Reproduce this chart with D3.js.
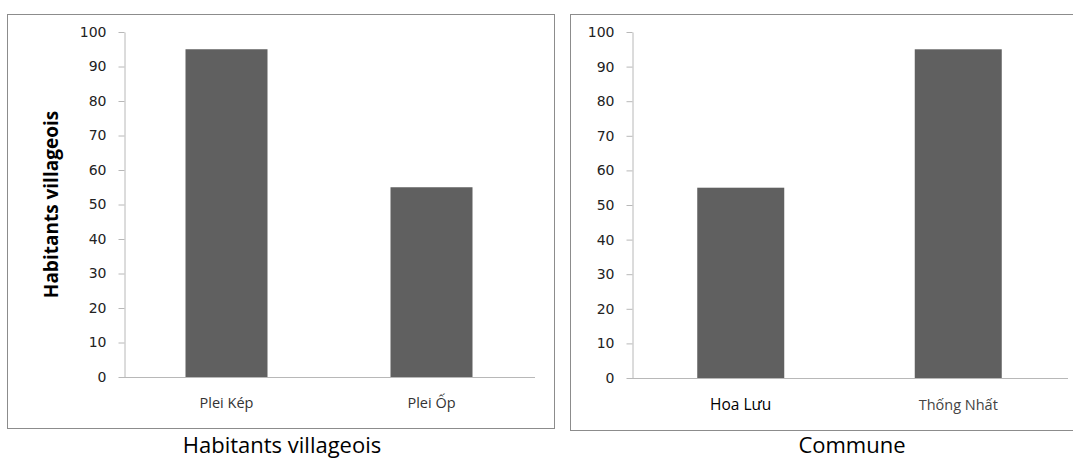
<!DOCTYPE html>
<html><head><meta charset="utf-8">
<script src="https://cdn.jsdelivr.net/npm/d3@7"></script>
<style>body{margin:0;background:#fff}svg{display:block}</style>
</head><body>
<svg id="c" width="1073" height="460"></svg>
<script>
const leftCategories = ["Plei Kép", "Plei Ốp"];
const leftValues = [95, 55];
const rightCategories = ["Hoa Lưu", "Thống Nhất"];
const rightValues = [55, 95];
const yTicks = [0, 10, 20, 30, 40, 50, 60, 70, 80, 90, 100];
const leftYTitle = "Habitants villageois";
const leftXTitle = "Habitants villageois";
const rightXTitle = "Commune";

const svg = d3.select("#c");

function panel(cfg) {
  const g = svg.append("g");
  g.append("rect").attr("x", cfg.box[0] + 0.5).attr("y", cfg.box[1] + 0.5)
    .attr("width", cfg.box[2]).attr("height", cfg.box[3])
    .attr("fill", "#fff").attr("stroke", "#8c8c8c").attr("stroke-width", 1);
  const x = d3.scaleBand().domain(cfg.cats).range([cfg.x0, cfg.x1]).paddingInner(0.6).paddingOuter(0.3);
  const y = d3.scaleLinear().domain([0, 100]).range([cfg.y0, cfg.y1]);
  g.selectAll("rect.bar").data(cfg.vals).enter().append("rect")
    .attr("class", "bar")
    .attr("x", (d, i) => x(cfg.cats[i]))
    .attr("width", x.bandwidth())
    .attr("y", d => y(d))
    .attr("height", d => y(0) - y(d))
    .attr("fill", "#606060");
  const ya = g.append("g").attr("transform", `translate(${cfg.x0 + 0.5},0)`)
    .call(d3.axisLeft(y).tickValues(yTicks).tickSize(6).tickPadding(12).tickSizeOuter(0));
  ya.select(".domain").attr("stroke", "#b8b8b8");
  ya.selectAll(".tick line").attr("stroke", "#b8b8b8");
  ya.selectAll(".tick text").attr("fill", "#222").style("font-family", "DejaVu Sans").style("font-size", "14px");
  g.append("line").attr("x1", cfg.x0).attr("x2", cfg.xEnd)
    .attr("y1", y(0) + 0.5).attr("y2", y(0) + 0.5).attr("stroke", "#b8b8b8");
  g.selectAll("text.cat").data(cfg.cats).enter().append("text")
    .attr("class", "cat")
    .attr("x", d => x(d) + x.bandwidth() / 2)
    .attr("y", cfg.catY)
    .attr("text-anchor", "middle")
    .attr("fill", (d, i) => cfg.catColors[i])
    .style("font-family", "Open Sans").style("font-size", (d, i) => cfg.catSizes[i])
    .text(d => d);
  g.append("text").attr("x", cfg.titleX).attr("y", 453).attr("text-anchor", "middle")
    .attr("fill", "#000").style("font-family", "Open Sans").style("font-size", "22px")
    .text(cfg.xTitle);
  if (cfg.yTitle) {
    g.append("text").attr("transform", `translate(58,${(cfg.y0 + cfg.y1) / 2}) rotate(-90)`)
      .attr("text-anchor", "middle").attr("fill", "#000")
      .style("font-family", "Open Sans").style("font-weight", "bold").style("font-size", "19px")
      .text(cfg.yTitle);
  }
}

panel({
  box: [7, 14, 547, 414], cats: leftCategories, vals: leftValues,
  x0: 124, x1: 534, xEnd: 535, y0: 377, y1: 32, catY: 408,
  catColors: ["#333", "#333"], catSizes: ["14.5px", "14.5px"],
  xTitle: leftXTitle, titleX: 282, yTitle: leftYTitle
});
panel({
  box: [570, 14, 520, 416], cats: rightCategories, vals: rightValues,
  x0: 632, x1: 1067, xEnd: 1068, y0: 378, y1: 32, catY: 410,
  catColors: ["#000", "#444"], catSizes: ["15.5px", "14.5px"],
  xTitle: rightXTitle, titleX: 852, yTitle: null
});
</script>
</body></html>
